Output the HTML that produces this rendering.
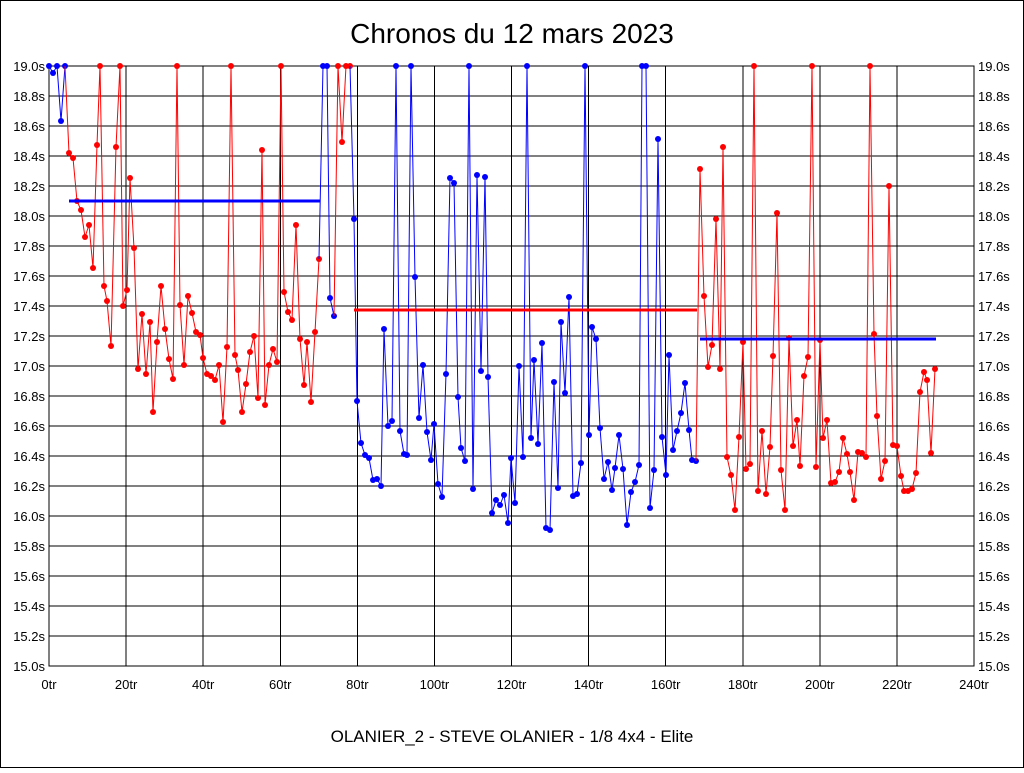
<!DOCTYPE html>
<html><head><meta charset="utf-8"><style>
body{margin:0;background:#fff}
svg text{font-family:"Liberation Sans",sans-serif}
</style></head><body>
<svg id="s" width="1024" height="768" xmlns="http://www.w3.org/2000/svg">
<rect x="0.5" y="0.5" width="1023" height="767" fill="#fff" stroke="#000" stroke-width="1"/>
<text x="512" y="43" font-size="28" text-anchor="middle">Chronos du 12 mars 2023</text>
<text x="512" y="742" font-size="17" text-anchor="middle">OLANIER_2 - STEVE OLANIER - 1/8 4x4 - Elite</text>
<g id="grid" shape-rendering="crispEdges"></g>
<rect x="49" y="66" width="925" height="600" fill="none" stroke="#000" stroke-width="1" shape-rendering="crispEdges"/>
<g id="data"></g>
</svg>
<script>
const NS="http://www.w3.org/2000/svg";
const g=document.getElementById('grid'),d=document.getElementById('data');
function el(p,tag,a,t){const e=document.createElementNS(NS,tag);for(const k in a)e.setAttribute(k,a[k]);if(t!==undefined)e.textContent=t;p.appendChild(e);return e;}
for(let i=0;i<=20;i++){const y=66+30*i;el(g,'line',{x1:49,x2:974,y1:y,y2:y,stroke:'#000','stroke-width':1});
const v=(19-0.2*i).toFixed(1)+'s';
el(g,'text',{x:45,y:y+5,'font-size':13,'text-anchor':'end'},v);
el(g,'text',{x:978,y:y+5,'font-size':13},v);}
for(let k=0;k<=12;k++){const x=49+925/12*k;el(g,'line',{x1:x,x2:x,y1:66,y2:666,stroke:'#000','stroke-width':1});
el(g,'text',{x:x,y:689,'font-size':13,'text-anchor':'middle'},(20*k)+'tr');}
const segs=[
['#00f',[49,66,53,73,57,66,61,121,65,66]],
['#f00',[69,153,73,158,77,201,81,210,85,237,89,225,93,268,97,145,100,66,104,286,107,301,111,346,116,147,120,66,123,306,127,290,130,178,134,248,138,369,142,314,146,374,150,322,153,412,157,342,161,286,165,329,169,359,173,379,177,66,180,305,184,365,188,296,192,313,196,332,200,335,203,358,207,374,211,376,215,380,219,365,223,422,227,347,231,66,235,355,238,370,242,412,246,384,250,352,254,336,258,398,262,150,265,405,269,365,273,349,277,362,281,66,284,292,288,312,292,320,296,225,300,339,304,385,307,342,311,402,315,332,319,259]],
['#00f',[323,66,327,66,330,298,334,316]],
['#f00',[338,66,342,142,346,66,350,66]],
['#00f',[354,219,357,401,361,443,365,455,369,458,373,480,377,479,381,486,384,329,388,426,392,421,396,66,400,431,404,454,407,455,411,66,415,277,419,418,423,365,427,432,431,460,434,424,438,484,442,497,446,374,450,178,454,183,458,397,461,448,465,461,469,66,473,489,477,175,481,371,485,177,488,377,492,513,496,500,500,505,504,495,508,523,511,458,515,503,519,366,523,457,527,66,531,438,534,360,538,444,542,343,546,528,550,530,554,382,558,488,561,322,565,393,569,297,573,496,577,494,581,463,585,66,589,435,592,327,596,339,600,428,604,479,608,462,612,490,615,468,619,435,623,469,627,525,631,492,635,482,639,465,642,66,646,66,650,508,654,470,658,139,662,437,666,475,669,355,673,450,677,431,681,413,685,383,689,430,692,460,696,461]],
['#f00',[700,169,704,296,708,367,712,345,716,219,720,369,723,147,727,457,731,475,735,510,739,437,743,342,746,469,750,464,754,66,758,491,762,431,766,494,770,447,773,356,777,213,781,470,785,510,789,338,793,446,797,420,800,466,804,376,808,357,812,66,816,467,820,340,823,438,827,420,831,483,835,482,839,472,843,438,847,454,850,472,854,500,858,452,862,453,866,457,870,66,874,334,877,416,881,479,885,461,889,186,893,445,897,446,901,476,904,491,908,491,912,489,916,473,920,392,924,372,927,380,931,453,935,369]]];
let prev=null;
segs.forEach(([c,p])=>{let pts=[];if(prev)pts.push(prev[0],prev[1]);pts=pts.concat(p);
el(d,'polyline',{points:pts.join(' '),fill:'none',stroke:c,'stroke-width':1});
for(let i=0;i<p.length;i+=2)el(d,'circle',{cx:p[i],cy:p[i+1],r:3,fill:c});
prev=[p[p.length-2],p[p.length-1]];});
el(d,'line',{x1:69,x2:320,y1:201,y2:201,stroke:'#00f','stroke-width':3});
el(d,'line',{x1:354,x2:697,y1:310,y2:310,stroke:'#f00','stroke-width':3});
el(d,'line',{x1:700,x2:936,y1:339,y2:339,stroke:'#00f','stroke-width':3});
</script>
</body></html>
